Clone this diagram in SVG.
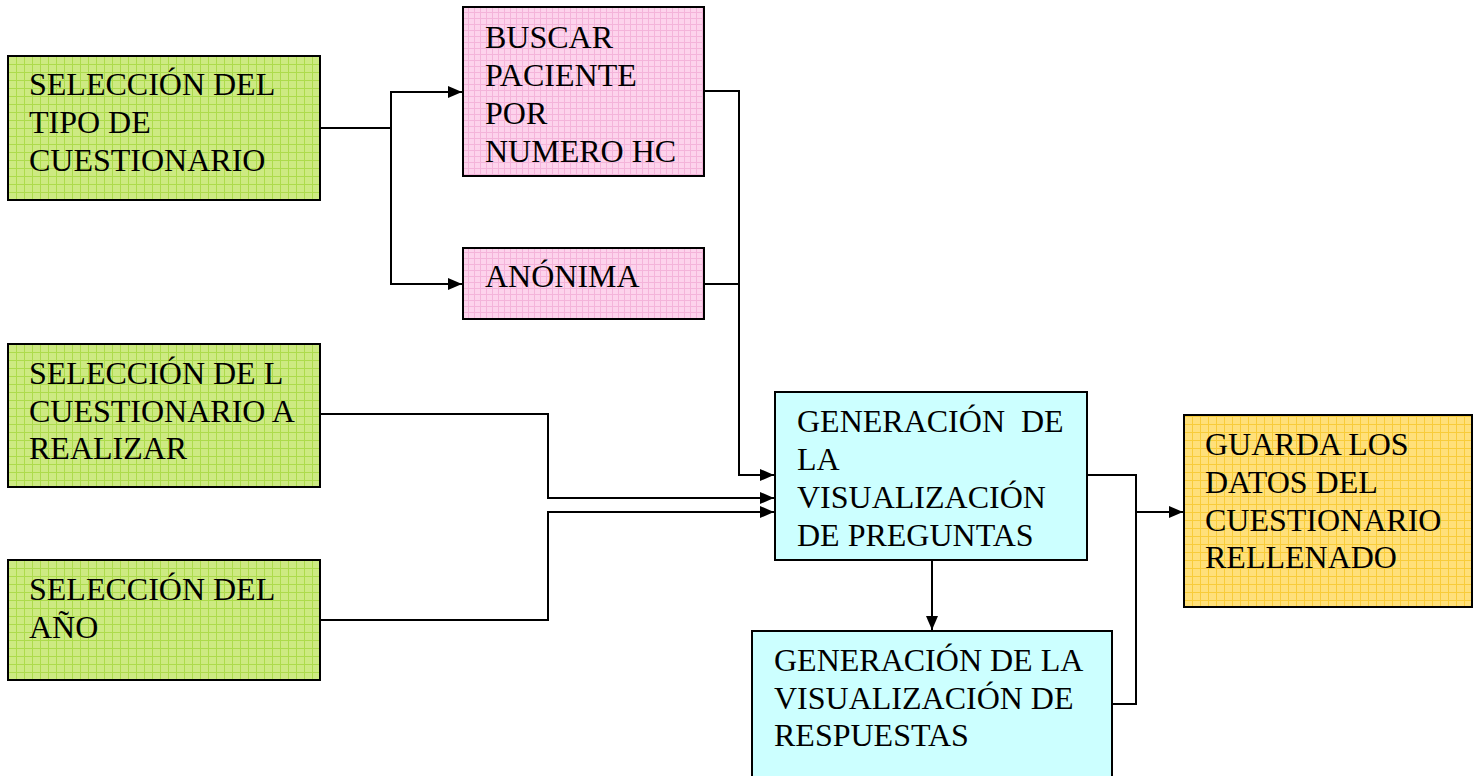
<svg xmlns="http://www.w3.org/2000/svg" width="1477" height="776" viewBox="0 0 1477 776">
<style>
.t{font-family:"Liberation Serif","Times New Roman",serif;font-size:32px;fill:#000}
.box{stroke:#000;stroke-width:2}
.c{fill:none;stroke:#000;stroke-width:2}
</style>
<defs>
<pattern id="pg" width="8" height="8" patternUnits="userSpaceOnUse">
<rect width="8" height="8" fill="#cdea82"/>
<path d="M0 0.5H8M0.5 0V8" stroke="#addb4c" stroke-width="1"/>
</pattern>
<pattern id="pp" width="6" height="6" patternUnits="userSpaceOnUse">
<rect width="6" height="6" fill="#fdd3ec"/>
<path d="M0 0.5H6M0.5 0V6" stroke="#f4b4da" stroke-width="1"/>
</pattern>
<pattern id="py" width="8" height="8" patternUnits="userSpaceOnUse">
<rect width="8" height="8" fill="#ffe07a"/>
<path d="M0 0.5H8M0.5 0V8" stroke="#f8cc3a" stroke-width="1"/>
</pattern>
<marker id="a" viewBox="0 0 14 12" refX="14" refY="6" markerWidth="14" markerHeight="12" markerUnits="userSpaceOnUse" orient="auto">
<path d="M0 0L14 6L0 12Z" fill="#000"/>
</marker>
</defs>
<rect width="1477" height="776" fill="#fff"/>
<g id="connectors">
<path class="c" d="M320 128H391V92H462" marker-end="url(#a)"/>
<path class="c" d="M391 128V284H462" marker-end="url(#a)"/>
<path class="c" d="M704 91H739V475H774" marker-end="url(#a)"/>
<path class="c" d="M704 284H739"/>
<path class="c" d="M320 414H548V498H774" marker-end="url(#a)"/>
<path class="c" d="M320 620H548V512H774" marker-end="url(#a)"/>
<path class="c" d="M932 560V630" marker-end="url(#a)"/>
<path class="c" d="M1087 475H1136V704H1112"/>
<path class="c" d="M1136 512H1183" marker-end="url(#a)"/>
</g>
<g id="tipo">
<rect class="box" x="8" y="56" width="312" height="144" fill="url(#pg)"/>
<text class="t" x="29" y="95">SELECCIÓN DEL</text>
<text class="t" x="29" y="133">TIPO DE</text>
<text class="t" x="29" y="171">CUESTIONARIO</text>
</g>
<g id="buscar">
<rect class="box" x="463" y="7" width="241" height="169" fill="url(#pp)"/>
<text class="t" x="485" y="48">BUSCAR</text>
<text class="t" x="485" y="86">PACIENTE</text>
<text class="t" x="485" y="124">POR</text>
<text class="t" x="485" y="162">NUMERO HC</text>
</g>
<g id="anonima">
<rect class="box" x="463" y="248" width="241" height="71" fill="url(#pp)"/>
<text class="t" x="485" y="287">ANÓNIMA</text>
</g>
<g id="cuestionario">
<rect class="box" x="8" y="344" width="312" height="143" fill="url(#pg)"/>
<text class="t" x="29" y="384">SELECCIÓN DE L</text>
<text class="t" x="29" y="422">CUESTIONARIO A</text>
<text class="t" x="29" y="459">REALIZAR</text>
</g>
<g id="anio">
<rect class="box" x="8" y="560" width="312" height="120" fill="url(#pg)"/>
<text class="t" x="29" y="600">SELECCIÓN DEL</text>
<text class="t" x="29" y="638">AÑO</text>
</g>
<g id="preguntas">
<rect class="box" x="775" y="392" width="312" height="168" fill="#ccffff"/>
<text class="t" x="797" y="432" xml:space="preserve">GENERACIÓN  DE</text>
<text class="t" x="797" y="470">LA</text>
<text class="t" x="797" y="508">VISUALIZACIÓN</text>
<text class="t" x="797" y="546">DE PREGUNTAS</text>
</g>
<g id="respuestas">
<rect class="box" x="752" y="631" width="360" height="150" fill="#ccffff"/>
<text class="t" x="774" y="671">GENERACIÓN DE LA</text>
<text class="t" x="774" y="709">VISUALIZACIÓN DE</text>
<text class="t" x="774" y="746">RESPUESTAS</text>
</g>
<g id="guarda">
<rect class="box" x="1184" y="415" width="288" height="192" fill="url(#py)"/>
<text class="t" x="1205" y="455">GUARDA LOS</text>
<text class="t" x="1205" y="493">DATOS DEL</text>
<text class="t" x="1205" y="531">CUESTIONARIO</text>
<text class="t" x="1205" y="568">RELLENADO</text>
</g>
</svg>
